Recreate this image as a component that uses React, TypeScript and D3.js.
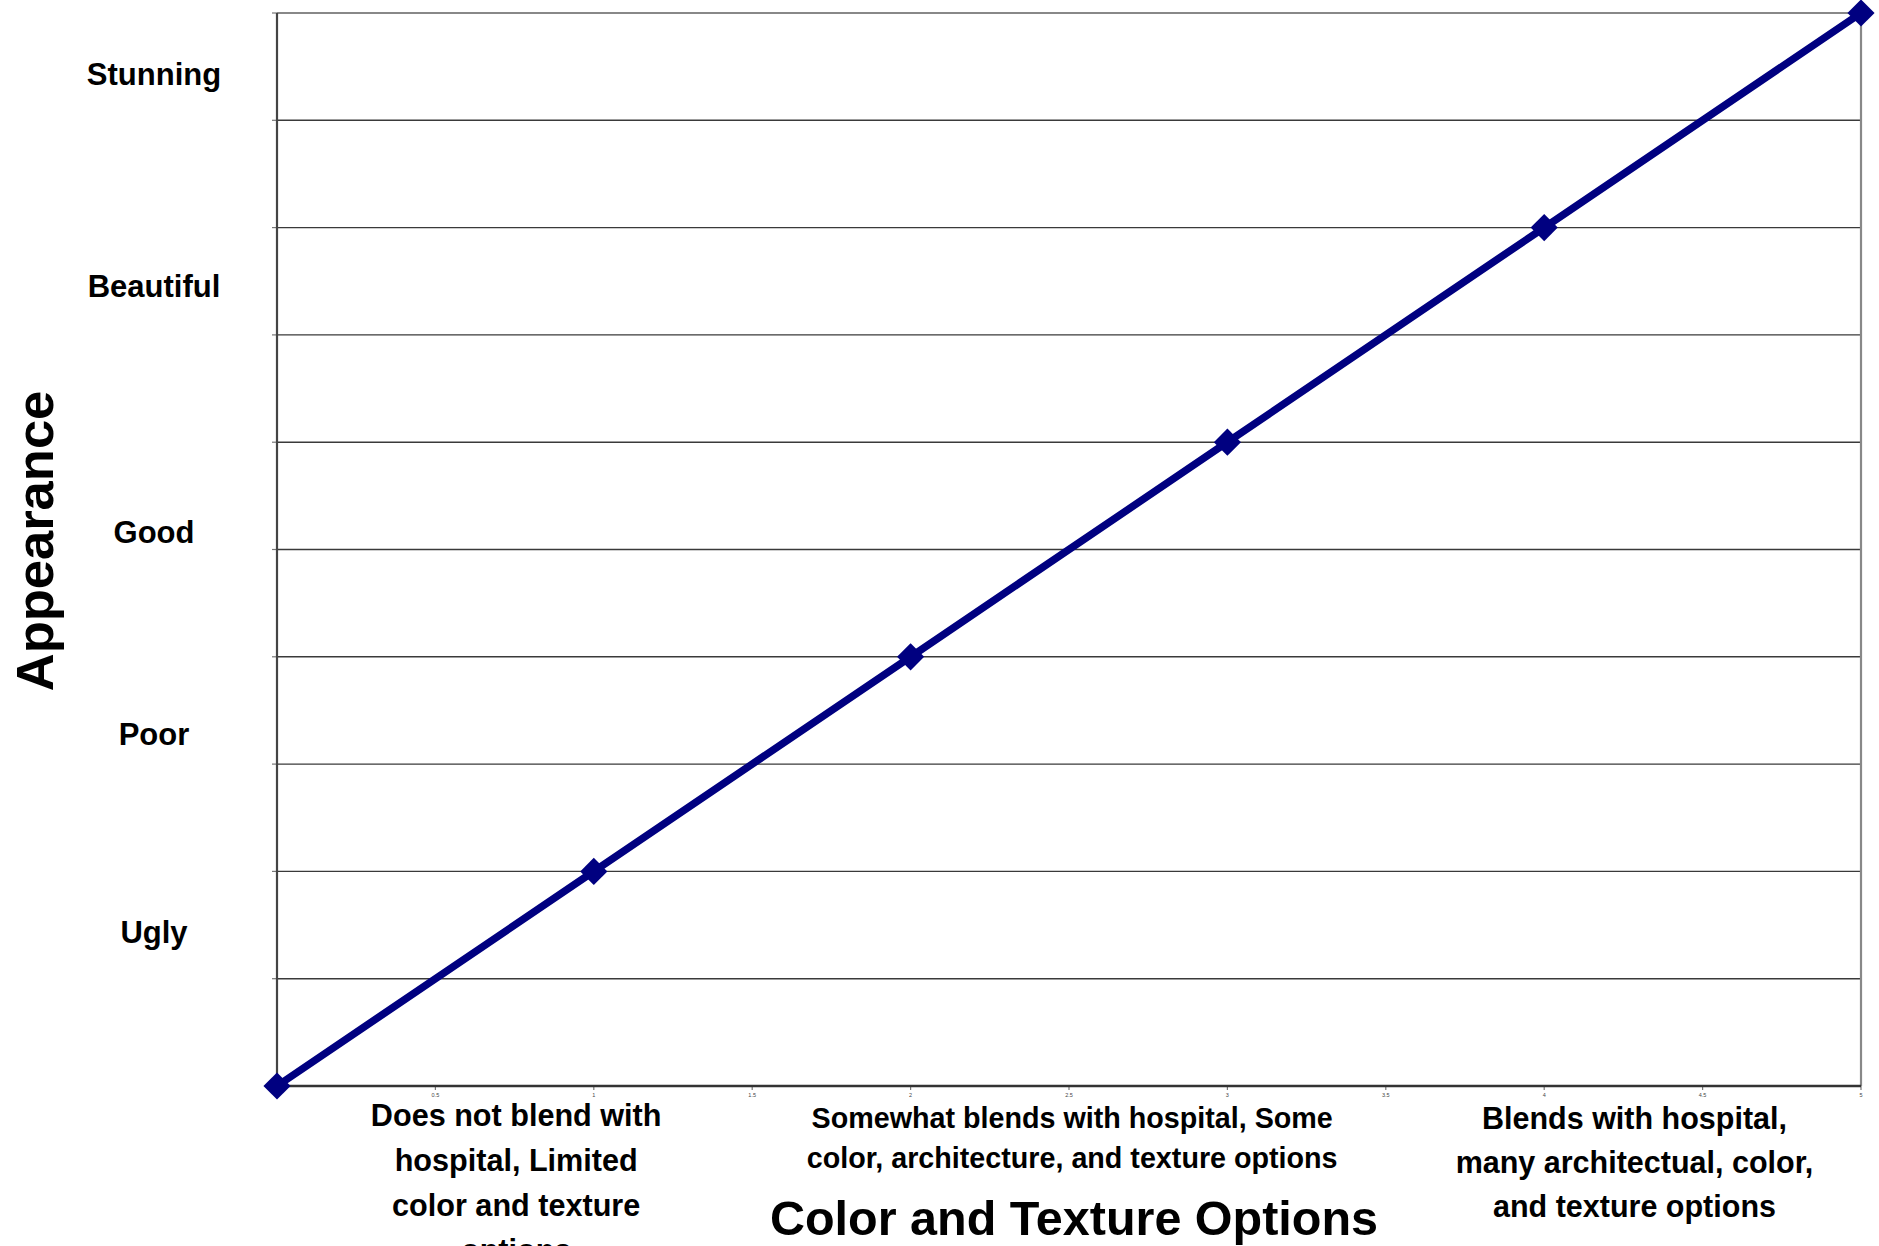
import React from "react";
import * as d3 from "d3";

// Series: appearance score for each level of color/texture options
const xValues = [0, 1, 2, 3, 4, 5];
const yValues = [0, 2, 4, 6, 8, 10];

// Numeric x ticks (tiny) and y gridline levels
const xTicks = [0, 0.5, 1, 1.5, 2, 2.5, 3, 3.5, 4, 4.5, 5];
const yTicks = [0, 1, 2, 3, 4, 5, 6, 7, 8, 9, 10];

// Descriptive appearance levels along the y axis (value = baseline level)
const yCategoryLabels = ["Stunning", "Beautiful", "Good", "Poor", "Ugly"];
const yCategoryLevels = [9.33, 7.35, 5.06, 3.18, 1.33];

// Descriptive option levels along the x axis (value = centre position)
const xCategoryLines = [
  ["Does not blend with", "hospital, Limited", "color and texture", "options"],
  ["Somewhat blends with hospital, Some", "color, architecture, and texture options"],
  ["Blends with hospital,", "many architectual, color,", "and texture options"],
];
const xCategoryPositions = [0.755, 2.51, 4.285];

const xTitle = "Color and Texture Options";
const yTitle = "Appearance";

// Layout
const W = 1879;
const H = 1246;
const plot = { left: 277, right: 1861, top: 13, bottom: 1086 };
const FONT = "'Liberation Sans', Arial, Helvetica, sans-serif";
const xLabelSizes = [30.6, 28.7, 30.5];
const xLabelFirstBaseline = [1126, 1128, 1129];
const xLabelLineGap = [45, 40, 44];

export default function App() {
  const x = d3.scaleLinear().domain([0, 5]).range([plot.left, plot.right]);
  const y = d3.scaleLinear().domain([0, 10]).range([plot.bottom, plot.top]);

  const points = xValues.map((v, i) => [v, yValues[i]] as [number, number]);
  const linePath = d3
    .line<[number, number]>()
    .x((d) => x(d[0]))
    .y((d) => y(d[1]))(points) as string;

  const diamond = d3.symbol().type(d3.symbolDiamond2).size(470)() as string;

  return (
    <>
      <style>{`body{margin:0;overflow:hidden;}`}</style>
      <svg
        width={W}
        height={H}
        style={{ position: "absolute", left: 0, top: 0, background: "#fff" }}
        fontFamily={FONT}
      >
        {/* horizontal gridlines */}
        {yTicks.slice(1, -1).map((t) => (
          <line
            key={"g" + t}
            x1={plot.left}
            x2={plot.right}
            y1={y(t)}
            y2={y(t)}
            stroke="#3a3a3a"
            strokeWidth={1.4}
          />
        ))}
        {/* plot frame: top and right */}
        <line x1={plot.left} x2={plot.right} y1={plot.top} y2={plot.top} stroke="#888" strokeWidth={2.2} />
        <line x1={plot.right} x2={plot.right} y1={plot.top} y2={plot.bottom} stroke="#888" strokeWidth={2.2} />

        {/* y ticks */}
        {yTicks.map((t) => (
          <line key={"yt" + t} x1={plot.left - 5} x2={plot.left} y1={y(t)} y2={y(t)} stroke="#777" strokeWidth={1.2} />
        ))}
        {/* x ticks with small numeric labels */}
        {xTicks.map((t) => (
          <g key={"xt" + t}>
            <line x1={x(t)} x2={x(t)} y1={plot.bottom} y2={plot.bottom + 4} stroke="#777" strokeWidth={1.2} />
            <text x={x(t)} y={plot.bottom + 11} fontSize={5.5} fill="#444" textAnchor="middle">
              {t}
            </text>
          </g>
        ))}

        {/* axes */}
        <line x1={plot.left} x2={plot.left} y1={plot.top} y2={plot.bottom} stroke="#444" strokeWidth={2.2} />
        <line x1={plot.left} x2={plot.right} y1={plot.bottom} y2={plot.bottom} stroke="#333" strokeWidth={2.6} />

        {/* series */}
        <path d={linePath} fill="none" stroke="#000080" strokeWidth={7.5} strokeLinejoin="round" />
        {points.map((p, i) => (
          <path key={"m" + i} d={diamond} transform={`translate(${x(p[0])},${y(p[1])})`} fill="#000080" />
        ))}

        {/* y category labels */}
        {yCategoryLabels.map((lab, i) => (
          <text
            key={lab}
            x={154}
            y={y(yCategoryLevels[i])}
            fontSize={31}
            fontWeight="bold"
            textAnchor="middle"
            fill="#000"
          >
            {lab}
          </text>
        ))}

        {/* x category labels */}
        {xCategoryLines.map((lines, i) => (
          <text
            key={"xc" + i}
            x={x(xCategoryPositions[i])}
            y={xLabelFirstBaseline[i]}
            fontSize={xLabelSizes[i]}
            fontWeight="bold"
            textAnchor="middle"
            fill="#000"
          >
            {lines.map((ln, j) => (
              <tspan key={j} x={x(xCategoryPositions[i])} dy={j === 0 ? 0 : xLabelLineGap[i]}>
                {ln}
              </tspan>
            ))}
          </text>
        ))}

        {/* axis titles */}
        <text x={1074} y={1235} fontSize={48.5} fontWeight="bold" textAnchor="middle" fill="#000">
          {xTitle}
        </text>
        <text
          transform="translate(53,541) rotate(-90)"
          fontSize={52.5}
          fontWeight="bold"
          textAnchor="middle"
          fill="#000"
        >
          {yTitle}
        </text>
      </svg>
    </>
  );
}
